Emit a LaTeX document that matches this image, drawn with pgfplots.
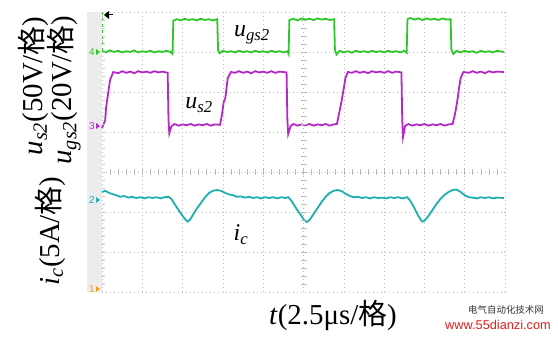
\documentclass[border=0pt]{standalone}
\usepackage{pgfplots}
\pgfplotsset{compat=1.18}
\usepackage{fontspec}
\setmainfont{Liberation Serif}
\newfontfamily\cjk{Noto Sans CJK SC}
\newfontfamily\arial{Liberation Sans}
\definecolor{tgreen}{RGB}{45,200,40}
\definecolor{tmag}{RGB}{180,40,200}
\definecolor{tcyan}{RGB}{30,175,175}
\definecolor{torange}{RGB}{240,165,30}
\definecolor{wred}{RGB}{225,30,30}
\begin{document}
\begin{tikzpicture}
\path[use as bounding box] (0,0) rectangle (558bp,338bp);
\fill[gray!15] (87bp,46bp) rectangle (102bp,326bp);
\begin{axis}[
  at={(102bp,46bp)}, anchor=south west,
  scale only axis, width=403bp, height=280bp,
  xmin=0, xmax=10, ymin=0, ymax=7,
  axis line style={draw=none},
  xtick={0,...,10}, ytick={0,...,7},
  xticklabels={}, yticklabels={},
  tick style={draw=none},
  grid=major,
  major grid style={gray!55, line width=0.6pt, dash pattern=on 0.8pt off 3.2pt},
  clip=false,
]
\addplot[tgreen, line width=1.8pt] coordinates {
(0,6.02)(0.1,5.99)(0.2,6.04)(0.3,6.0)(0.4,6.03)(0.5,5.99)(0.6,6.02)(0.7,6.0)(0.8,6.04)(0.9,5.99)(1.0,6.02)(1.1,6.0)(1.2,6.03)(1.3,5.99)(1.4,6.02)(1.5,6.0)(1.6,6.03)(1.7,6.0)(1.75,5.95)(1.77,6.78)(1.85,6.82)(1.95,6.79)(2.05,6.83)(2.15,6.8)(2.25,6.82)(2.35,6.79)(2.45,6.83)(2.55,6.8)(2.65,6.82)(2.75,6.79)(2.86,6.82)(2.88,6.04)(2.92,5.97)(3.0,6.03)(3.1,6.0)(3.2,6.02)(3.3,5.99)(3.4,6.03)(3.5,6.0)(3.6,6.02)(3.7,5.99)(3.8,6.03)(3.9,6.0)(4.0,6.02)(4.1,5.99)(4.2,6.03)(4.3,6.0)(4.4,6.02)(4.5,5.99)(4.6,6.02)(4.63,5.95)(4.65,6.8)(4.75,6.83)(4.85,6.79)(4.95,6.84)(5.05,6.81)(5.15,6.83)(5.25,6.8)(5.35,6.84)(5.45,6.81)(5.55,6.83)(5.65,6.8)(5.76,6.82)(5.78,6.05)(5.82,5.94)(5.9,6.03)(6.0,5.99)(6.1,6.02)(6.2,5.98)(6.3,6.03)(6.4,6.0)(6.5,6.02)(6.6,5.99)(6.7,6.03)(6.8,6.0)(6.9,6.02)(7.0,5.99)(7.1,6.03)(7.2,6.0)(7.3,6.02)(7.4,5.99)(7.5,6.03)(7.56,5.98)(7.58,6.82)(7.65,6.85)(7.75,6.81)(7.85,6.84)(7.95,6.8)(8.05,6.84)(8.15,6.81)(8.25,6.83)(8.35,6.8)(8.45,6.84)(8.55,6.81)(8.65,6.82)(8.67,6.05)(8.72,5.95)(8.8,6.03)(8.9,5.99)(9.0,6.03)(9.1,6.0)(9.2,6.02)(9.3,5.98)(9.4,6.03)(9.5,6.0)(9.6,6.02)(9.7,5.99)(9.8,6.03)(9.97,6.0)
};
\addplot[tgreen, line width=0.8pt, dashed] coordinates {(0,7)(0,6.02)};
\addplot[tmag, line width=1.8pt] coordinates {
(0,4.1)(0.08,4.3)(0.1,4.6)(0.15,4.95)(0.2,5.3)(0.28,5.5)(0.4,5.47)(0.5,5.52)(0.6,5.48)(0.7,5.51)(0.8,5.47)(0.9,5.52)(1.0,5.49)(1.1,5.51)(1.2,5.48)(1.3,5.52)(1.4,5.49)(1.5,5.51)(1.63,5.48)(1.65,4.3)(1.67,3.97)(1.72,4.14)(1.8,4.2)(1.9,4.16)(2.0,4.19)(2.1,4.17)(2.2,4.2)(2.3,4.16)(2.4,4.19)(2.5,4.17)(2.6,4.2)(2.7,4.16)(2.8,4.19)(2.93,4.18)(2.98,4.45)(3.02,4.75)(3.06,4.85)(3.12,5.35)(3.2,5.5)(3.3,5.48)(3.4,5.52)(3.5,5.48)(3.6,5.51)(3.7,5.47)(3.8,5.52)(3.9,5.49)(4.0,5.51)(4.1,5.48)(4.2,5.52)(4.3,5.48)(4.4,5.51)(4.58,5.49)(4.6,4.3)(4.62,3.95)(4.68,4.15)(4.75,4.2)(4.85,4.16)(4.95,4.19)(5.05,4.17)(5.15,4.2)(5.25,4.16)(5.35,4.19)(5.45,4.17)(5.55,4.2)(5.65,4.16)(5.75,4.19)(5.83,4.2)(5.88,4.45)(5.95,4.8)(6.0,5.1)(6.04,5.35)(6.1,5.5)(6.2,5.48)(6.3,5.52)(6.4,5.48)(6.5,5.51)(6.6,5.47)(6.7,5.52)(6.8,5.49)(6.9,5.51)(7.0,5.48)(7.1,5.52)(7.2,5.48)(7.3,5.51)(7.43,5.49)(7.45,4.3)(7.47,3.88)(7.52,4.15)(7.6,4.2)(7.7,4.16)(7.8,4.19)(7.9,4.17)(8.0,4.2)(8.1,4.16)(8.2,4.19)(8.3,4.17)(8.4,4.2)(8.5,4.16)(8.6,4.19)(8.7,4.2)(8.76,4.45)(8.82,4.8)(8.86,5.1)(8.9,5.35)(8.97,5.5)(9.1,5.48)(9.2,5.52)(9.3,5.48)(9.4,5.51)(9.5,5.47)(9.6,5.52)(9.7,5.49)(9.8,5.51)(9.97,5.5)
};
\addplot[tcyan, line width=1.8pt] coordinates {
(0,2.5)(0.08,2.53)(0.15,2.49)(0.25,2.45)(0.35,2.42)(0.45,2.38)(0.55,2.4)(0.65,2.36)(0.75,2.38)(0.85,2.35)(0.95,2.37)(1.05,2.34)(1.15,2.37)(1.25,2.35)(1.35,2.37)(1.45,2.34)(1.55,2.37)(1.65,2.38)(1.72,2.33)(1.8,2.2)(1.9,2.05)(2.0,1.9)(2.08,1.8)(2.12,1.76)(2.18,1.8)(2.25,1.92)(2.35,2.08)(2.45,2.22)(2.55,2.36)(2.65,2.47)(2.75,2.53)(2.85,2.55)(2.95,2.53)(3.05,2.48)(3.15,2.44)(3.25,2.42)(3.35,2.38)(3.45,2.39)(3.55,2.36)(3.65,2.38)(3.75,2.35)(3.85,2.37)(3.95,2.34)(4.05,2.37)(4.15,2.35)(4.25,2.37)(4.35,2.34)(4.45,2.37)(4.55,2.35)(4.62,2.37)(4.7,2.28)(4.8,2.12)(4.9,1.97)(5.0,1.82)(5.08,1.75)(5.15,1.8)(5.25,1.95)(5.35,2.1)(5.45,2.25)(5.55,2.38)(5.65,2.48)(5.75,2.53)(5.85,2.55)(5.95,2.52)(6.05,2.45)(6.15,2.4)(6.25,2.37)(6.35,2.38)(6.45,2.35)(6.55,2.37)(6.65,2.34)(6.75,2.37)(6.85,2.35)(6.95,2.36)(7.05,2.34)(7.15,2.37)(7.25,2.35)(7.35,2.37)(7.45,2.34)(7.57,2.37)(7.65,2.28)(7.75,2.1)(7.85,1.9)(7.94,1.76)(8.0,1.78)(8.1,1.9)(8.2,2.05)(8.3,2.2)(8.4,2.33)(8.5,2.43)(8.6,2.5)(8.7,2.55)(8.8,2.56)(8.9,2.5)(9.0,2.42)(9.1,2.37)(9.2,2.36)(9.3,2.34)(9.4,2.37)(9.5,2.35)(9.6,2.37)(9.7,2.34)(9.8,2.36)(9.97,2.35)
};
\end{axis}
% centre-line minor ticks
\foreach \i in {1,...,34} {\draw[gray!55, line width=0.6pt] (300.5bp,46bp+\i*8bp) -- (306.5bp,46bp+\i*8bp);}
\foreach \i in {1,...,49} {\draw[gray!55, line width=0.6pt] (102bp+\i*8.06bp,163bp) -- (102bp+\i*8.06bp,169bp);}
\foreach \i in {1,...,34} {\draw[gray!45, line width=0.5pt] (102bp,46bp+\i*8bp) -- (105bp,46bp+\i*8bp);}
% channel markers
\node[font=\arial\fontsize{10}{10}\selectfont, text=tgreen, inner sep=0pt] at (92bp,286bp) {4};
\fill[tgreen] (96bp,283bp) -- (100bp,286bp) -- (96bp,289bp) -- cycle;
\node[font=\arial\fontsize{10}{10}\selectfont, text=tmag, inner sep=0pt] at (92bp,212bp) {3};
\fill[tmag] (96bp,209bp) -- (100bp,212bp) -- (96bp,215bp) -- cycle;
\node[font=\arial\fontsize{10}{10}\selectfont, text=tcyan, inner sep=0pt] at (92bp,138bp) {2};
\fill[tcyan] (96bp,135bp) -- (100bp,138bp) -- (96bp,141bp) -- cycle;
\node[font=\arial\fontsize{10}{10}\selectfont, text=torange, inner sep=0pt] at (92bp,49bp) {1};
\fill[torange] (96bp,46bp) -- (100bp,49bp) -- (96bp,52bp) -- cycle;
% trigger marker
\fill[black] (104bp,323bp) -- (109bp,327bp) -- (109bp,319bp) -- cycle;
\draw[black, line width=1pt] (107bp,323bp) -- (113bp,323bp);
% curve labels
\node[font=\fontsize{24}{26}\selectfont] at (252bp,303bp) {\textit{u}\textsubscript{\textit{gs2}}};
\node[font=\fontsize{24}{26}\selectfont] at (199bp,233bp) {\textit{u}\textsubscript{\textit{s2}}};
\node[font=\fontsize{24}{26}\selectfont] at (241bp,103bp) {\textit{i}\textsubscript{\textit{c}}};
% axis labels
\node[font=\fontsize{29}{31}\selectfont, rotate=90, inner sep=0pt] at (33bp,252bp) {\textit{u}\textsubscript{\textit{s2}}(50V/{\cjk 格})};
\node[font=\fontsize{29}{31}\selectfont, rotate=90, inner sep=0pt] at (64bp,248bp) {\textit{u}\textsubscript{\textit{gs2}}(20V/{\cjk 格})};
\node[font=\fontsize{29}{31}\selectfont, rotate=90, inner sep=0pt] at (50bp,107bp) {\textit{i}\textsubscript{\textit{c}}(5A/{\cjk 格})};
\node[font=\fontsize{29}{31}\selectfont, inner sep=0pt] at (333bp,23bp) {\textit{t}(2.5μs/{\cjk 格})};
% watermark
\node[font=\cjk\fontsize{9.5}{10}\selectfont, text=black!80, inner sep=0pt] at (506bp,28bp) {电气自动化技术网};
\node[font=\arial\fontsize{12.8}{13}\selectfont, text=wred, inner sep=0pt] at (498bp,13bp) {www.55dianzi.com};
\end{tikzpicture}
\end{document}
